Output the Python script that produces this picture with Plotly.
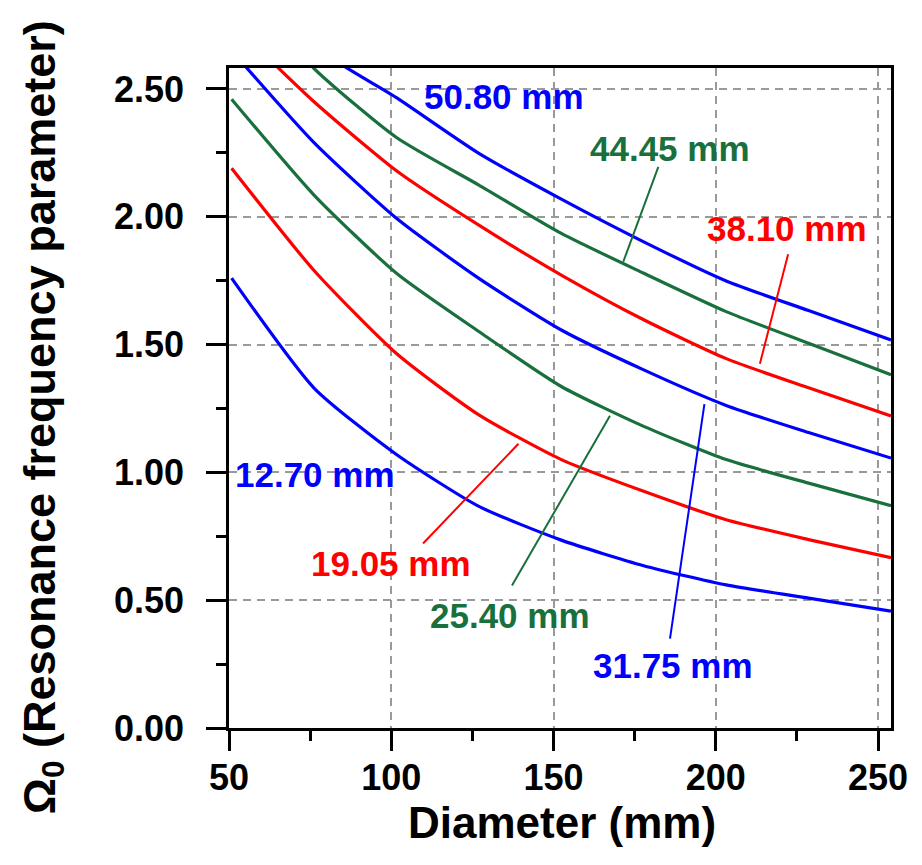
import plotly.graph_objects as go

# Plate diameters (mm) at which the resonance parameter was evaluated
diameter_mm = [50.8, 76.2, 101.6, 127.0, 152.4, 177.8, 203.2, 228.6, 254.0]

# Omega_0 for each plate thickness
omega_1270 = [1.76, 1.33, 1.07, 0.867, 0.735, 0.635, 0.560, 0.508, 0.457]
omega_1905 = [2.19, 1.79, 1.465, 1.225, 1.050, 0.926, 0.815, 0.737, 0.666]
omega_2540 = [2.46, 2.085, 1.779, 1.551, 1.336, 1.180, 1.050, 0.958, 0.870]
omega_3175 = [2.65, 2.29, 1.994, 1.759, 1.557, 1.401, 1.262, 1.156, 1.056]
omega_3810 = [2.76, 2.45, 2.180, 1.967, 1.772, 1.597, 1.445, 1.331, 1.221]
omega_4445 = [2.94, 2.58, 2.310, 2.124, 1.935, 1.779, 1.629, 1.505, 1.382]
omega_5080 = [3.10, 2.67, 2.466, 2.248, 2.069, 1.902, 1.749, 1.633, 1.518]

thickness_labels = ["12.70 mm", "19.05 mm", "25.40 mm", "31.75 mm",
                    "38.10 mm", "44.45 mm", "50.80 mm"]

x_ticks = [50, 100, 150, 200, 250]
y_ticks = [0.0, 0.5, 1.0, 1.5, 2.0, 2.5]

BLUE = "#0000FF"
RED = "#FF0000"
GREEN = "#19703C"

series = [
    (omega_1270, BLUE),
    (omega_1905, RED),
    (omega_2540, GREEN),
    (omega_3175, BLUE),
    (omega_3810, RED),
    (omega_4445, GREEN),
    (omega_5080, BLUE),
]

# Label centre (x, y) and optional leader line (x0, y0, x1, y1), in data units
label_pos = [(76.6, 0.990), (99.8, 0.643), (136.6, 0.440), (186.7, 0.245),
             (222.1, 1.956), (185.9, 2.266), (134.6, 2.471)]
leaders = [None,
           (109.8, 0.722, 139.2, 1.112),
           (137.2, 0.557, 167.4, 1.222),
           (185.9, 0.350, 196.5, 1.267),
           (222.3, 1.853, 213.6, 1.425),
           (182.3, 2.195, 171.5, 1.824),
           None]

FONT = "Arial, Liberation Sans, sans-serif"

fig = go.Figure()
for (vals, col), name in zip(series, thickness_labels):
    fig.add_trace(go.Scatter(x=diameter_mm, y=vals, mode="lines", name=name,
                             line=dict(color=col, width=3.2, shape="spline",
                                       smoothing=0.6),
                             showlegend=False))

for (vals, col), name, (lx, ly), ld in zip(series, thickness_labels, label_pos, leaders):
    fig.add_annotation(x=lx, y=ly, xref="x", yref="y", text=name, showarrow=False,
                       xanchor="center", yanchor="middle",
                       font=dict(family=FONT, size=35, color=col, weight="bold"))
    if ld is not None:
        fig.add_shape(type="line", xref="x", yref="y", x0=ld[0], y0=ld[1],
                      x1=ld[2], y1=ld[3], line=dict(color=col, width=2))

axis_common = dict(
    showline=True, linecolor="black", linewidth=2.5, mirror=True,
    ticks="outside", ticklen=20, tickwidth=2.5, tickcolor="black",
    showgrid=True, gridcolor="#9a9a9a", gridwidth=1.5, griddash="8px,6px",
    zeroline=False,
    tickfont=dict(family=FONT, size=36, color="black", weight="bold"),
)

fig.update_xaxes(
    range=[50, 254], tickvals=x_ticks, ticktext=[str(v) for v in x_ticks],
    minor=dict(ticks="outside", ticklen=10, tickwidth=2.5, tickcolor="black",
               dtick=25, tick0=50, showgrid=False),
    ticklabelstandoff=-4,
    **axis_common,
)
fig.update_yaxes(
    range=[0, 2.582], tickvals=y_ticks, ticktext=[f"{v:.2f}" for v in y_ticks],
    minor=dict(ticks="outside", ticklen=10, tickwidth=2.5, tickcolor="black",
               dtick=0.25, tick0=0, showgrid=False),
    ticklabelstandoff=15,
    **axis_common,
)

# Axis titles
fig.add_annotation(text="Diameter (mm)", xref="paper", yref="paper",
                   x=0.503, y=-0.143, xanchor="center", yanchor="middle",
                   showarrow=False,
                   font=dict(family=FONT, size=44, color="black", weight="bold"))
fig.add_annotation(text="Ω<sub>0</sub> (Resonance frequency parameter)",
                   xref="paper", yref="paper", x=-0.2825, y=0.471,
                   xanchor="center", yanchor="middle", textangle=-90,
                   showarrow=False,
                   font=dict(family=FONT, size=45, color="black", weight="bold"))

fig.update_layout(
    width=922, height=865,
    margin=dict(l=229, r=31, t=68, b=137, autoexpand=False),
    plot_bgcolor="white", paper_bgcolor="white",
)

fig.write_html("out.html")
